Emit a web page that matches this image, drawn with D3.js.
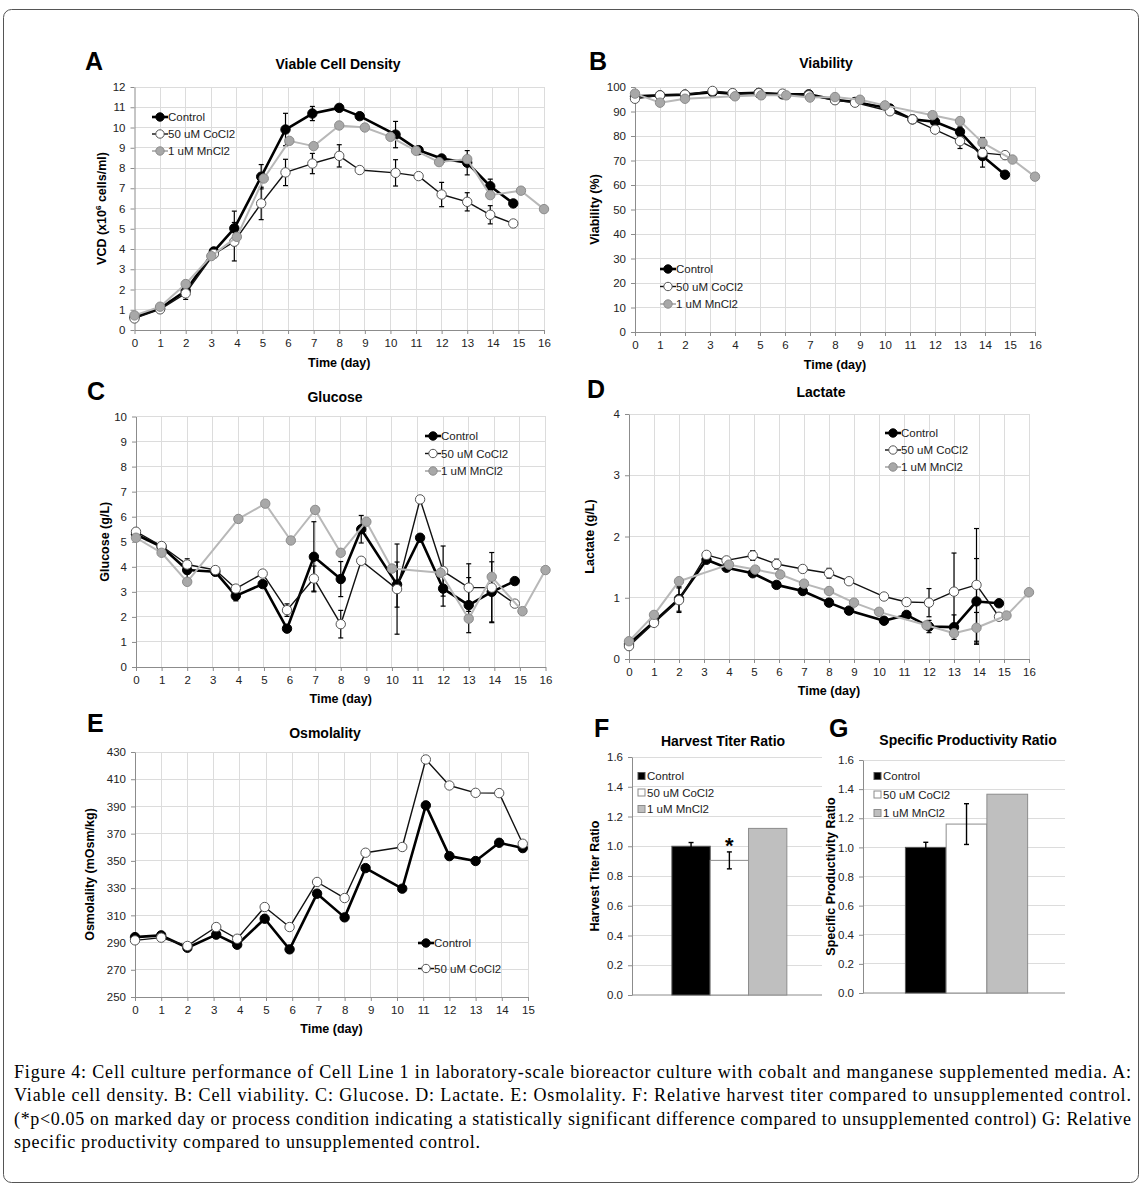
<!DOCTYPE html>
<html>
<head>
<meta charset="utf-8">
<script src="https://cdn.jsdelivr.net/npm/d3@7"></script>
<style>
  body { margin: 0; background: #fff; }
  svg text { font-family: "Liberation Sans", Arial, sans-serif; }
</style>
</head>
<body>
<svg id="fig" width="1144" height="1187"></svg>
<script>
// sampling days (control / CoCl2 and MnCl2 were sampled on slightly shifted days)
var days = [0, 1, 2, 3.1, 3.9, 4.95, 5.9, 6.95, 8, 8.8, 10.2, 11.1, 12, 13, 13.9, 14.8];
var daysMn = [0, 1, 2, 3, 4, 5.05, 6.05, 7, 8, 9, 10, 11, 11.9, 13, 13.9, 15.1, 16];
var seriesNames = ['Control', '50 uM CoCl2', '1 uM MnCl2'];

// A: viable cell density (x10^6 cells/ml)
var vcdControl = [0.63, 1.07, 1.94, 3.88, 5.02, 7.57, 9.9, 10.69, 10.97, 10.56, 9.65, 8.88, 8.47, 8.26, 7.1, 6.25];
var vcdControlErr = [0, 0, 0, 0, 0.85, 0.6, 0.8, 0.35, 0, 0, 0.65, 0, 0, 0.6, 0.35, 0];
var vcdCoCl2 = [0.57, 1.02, 1.81, 3.75, 4.36, 6.25, 7.78, 8.22, 8.6, 7.9, 7.76, 7.6, 6.69, 6.33, 5.69, 5.26];
var vcdCoCl2Err = [0, 0, 0.3, 0, 0.95, 0.8, 0.65, 0.5, 0.55, 0, 0.65, 0, 0.6, 0.45, 0.45, 0];
var vcdMnCl2 = [0.72, 1.15, 2.27, 3.65, 4.6, 7.48, 9.34, 9.08, 10.1, 10.0, 9.54, 8.85, 8.29, 8.44, 6.66, 6.88, 5.97];

// B: viability (%)
var viaControl = [96.2, 96.6, 96.9, 97.9, 97.3, 97.6, 97.0, 97.0, 94.8, 93.9, 91.2, 86.8, 85.8, 81.7, 71.8, 64.2];
var viaControlErr = [0, 0, 0, 0, 0, 0, 0, 0, 0, 0, 0, 0, 1.5, 2, 4.5, 0];
var viaCoCl2 = [95.2, 96.6, 96.9, 98.4, 97.5, 97.5, 97.3, 96.6, 94.6, 93.6, 90.1, 86.8, 82.6, 77.9, 73.1, 72.2];
var viaCoCl2Err = [0, 0, 0, 0, 0, 0, 0, 0, 0, 0, 0, 0, 0, 3, 2, 0];
var viaMnCl2 = [97.3, 93.6, 95.2, null, 96.2, 96.6, 96.6, 95.7, 95.9, 94.8, 92.5, null, 88.5, 86.1, 77.3, 70.4, 63.4];
var viaMnCl2Err = [0, 0, 0, 0, 0, 0, 0, 0, 0, 0, 0, 0, 0, 0, 2, 0, 0];

// C: glucose (g/L)
var gluControl = [5.29, 4.8, 3.87, 3.8, 2.84, 3.31, 1.53, 4.4, 3.51, 5.5, 3.29, 5.16, 3.13, 2.47, 3.0, 3.43];
var gluControlErr = [0, 0, 0.45, 0, 0.2, 0, 0, 1.4, 0.7, 0.55, 0.9, 0, 0.7, 1.1, 1.2, 0];
var gluCoCl2 = [5.4, 4.83, 4.09, 3.87, 3.13, 3.73, 2.27, 3.53, 1.71, 4.24, 3.11, 6.69, 3.83, 3.17, 3.17, 2.53];
var gluCoCl2Err = [0, 0, 0, 0, 0, 0, 0.25, 0.5, 0.55, 0, 1.8, 0, 1.0, 0.95, 1.4, 0];
var gluMnCl2 = [5.16, 4.56, 3.4, null, 5.91, 6.52, 5.05, 6.27, 4.56, 5.8, 3.93, null, 3.76, 1.93, 3.6, 2.23, 3.87];

// D: lactate (g/L)
var lacControl = [0.245, 0.61, 0.98, 1.62, 1.49, 1.40, 1.21, 1.11, 0.92, 0.79, 0.625, 0.72, 0.53, 0.52, 0.94, 0.91];
var lacControlErr = [0, 0, 0.2, 0, 0, 0, 0, 0, 0, 0, 0.05, 0, 0.1, 0.2, 0.7, 0];
var lacCoCl2 = [0.21, 0.59, 0.96, 1.70, 1.61, 1.69, 1.55, 1.47, 1.40, 1.27, 1.02, 0.93, 0.92, 1.10, 1.21, 0.69];
var lacCoCl2Err = [0, 0, 0.2, 0, 0, 0.08, 0.08, 0, 0.08, 0, 0, 0, 0.23, 0.63, 0.92, 0];
var lacMnCl2 = [0.29, 0.72, 1.27, null, 1.54, 1.46, 1.38, 1.23, 1.11, 0.92, 0.77, null, 0.55, 0.42, 0.51, 0.71, 1.09];
var lacMnCl2Err = [0, 0, 0, 0, 0, 0, 0, 0, 0, 0, 0, 0, 0, 0, 0.25, 0, 0];

// E: osmolality (mOsm/kg)
var osmControl = [294, 295.3, 286.2, 295.8, 288.4, 307.5, 285, 325.9, 308.5, 344.7, 329.6, 390.8, 353.5, 349.9, 363.3, 359.4];
var osmCoCl2 = [291.6, 293.6, 287.5, 301.4, 292.8, 316.1, 301.4, 334.5, 322.7, 356, 360.2, 424.5, 405.4, 400, 399.8, 362.6];

// F / G: ratios to control
var titerRatio = [1.0, 0.905, 1.12];
var titerErr = [0.025, 0.057, 0];
var qpRatio = [1.0, 1.16, 1.365];
var qpErr = [0.035, 0.14, 0];
var ratioTicks = [0, 0.2, 0.4, 0.6, 0.8, 1.0, 1.2, 1.4, 1.6];

var captionLines = [
  'Cell culture performance of Cell Line 1 in laboratory-scale bioreactor culture with cobalt and manganese supplemented media. A:',
  'Viable cell density. B: Cell viability. C: Glucose. D: Lactate. E: Osmolality. F: Relative harvest titer compared to unsupplemented control.',
  '(*p<0.05 on marked day or process condition indicating a statistically significant difference compared to unsupplemented control) G: Relative',
  'specific productivity compared to unsupplemented control.'
];

var svg = d3.select('#fig');
var gridColor = '#dcdcdc', axisColor = '#8c8c8c';
var seriesStyle = [
  {line: '#000', width: 2.6, fill: '#000', stroke: '#000'},
  {line: '#111', width: 1.4, fill: '#fff', stroke: '#555'},
  {line: '#b8b8b8', width: 2, fill: '#a8a8a8', stroke: '#8c8c8c'}
];
var barStyle = [
  {fill: '#000', stroke: '#555'},
  {fill: '#fff', stroke: '#8c8c8c'},
  {fill: '#bfbfbf', stroke: '#8c8c8c'}
];

function styleAxis(a) {
  a.select('.domain').attr('stroke', axisColor);
  a.selectAll('.tick line').attr('stroke', axisColor);
  a.selectAll('.tick text').attr('font-size', 11.5).attr('fill', '#222');
}

function panelText(p) {
  svg.append('text').attr('x', p.letterX).attr('y', p.letterY)
    .attr('font-size', 25).attr('font-weight', 'bold').text(p.letter);
  svg.append('text').attr('x', p.titleX).attr('y', p.titleY).attr('text-anchor', 'middle')
    .attr('font-size', 14).attr('font-weight', 'bold').text(p.title);
  var yl = svg.append('text')
    .attr('transform', 'translate(' + p.yLabelX + ',' + (p.top + p.bottom) / 2 + ') rotate(-90)')
    .attr('text-anchor', 'middle').attr('font-size', 12.5).attr('font-weight', 'bold');
  if (p.yLabelSup) {
    yl.append('tspan').text(p.yLabel[0]);
    yl.append('tspan').attr('font-size', 8).attr('dy', -5).text(p.yLabelSup);
    yl.append('tspan').attr('dy', 5).text(p.yLabel[1]);
  } else {
    yl.text(p.yLabel);
  }
  if (p.xLabelY) {
    svg.append('text').attr('x', (p.left + p.right) / 2).attr('y', p.xLabelY).attr('text-anchor', 'middle')
      .attr('font-size', 12.5).attr('font-weight', 'bold').text('Time (day)');
  }
}

function linePanel(p) {
  var g = svg.append('g');
  var x = d3.scaleLinear().domain([0, p.xMax]).range([p.left, p.right]);
  var y = d3.scaleLinear().domain([p.yMin, p.yMax]).range([p.bottom, p.top]);
  var xTicks = d3.range(0, p.xMax + 1);
  var yTicks = d3.range(p.yMin, p.yMax + p.yStep / 2, p.yStep);

  g.append('g').selectAll('line').data(xTicks.slice(1)).enter().append('line')
    .attr('x1', x).attr('x2', x).attr('y1', p.top).attr('y2', p.bottom)
    .attr('stroke', gridColor).attr('shape-rendering', 'crispEdges');
  g.append('g').selectAll('line').data(yTicks.slice(1)).enter().append('line')
    .attr('x1', p.left).attr('x2', p.right).attr('y1', y).attr('y2', y)
    .attr('stroke', gridColor).attr('shape-rendering', 'crispEdges');

  var xa = g.append('g').attr('transform', 'translate(0,' + p.bottom + ')')
    .call(d3.axisBottom(x).tickValues(xTicks).tickSize(4).tickSizeOuter(0).tickPadding(5));
  var ya = g.append('g').attr('transform', 'translate(' + p.left + ',0)')
    .call(d3.axisLeft(y).tickValues(yTicks).tickSize(4).tickSizeOuter(0).tickPadding(5).tickFormat(d3.format('d')));
  styleAxis(xa);
  styleAxis(ya);

  var line = d3.line().x(function(d) { return x(d.x); }).y(function(d) { return y(d.y); });

  p.series.forEach(function(s) {
    var st = seriesStyle[s.style];
    var pts = s.days.map(function(d, j) {
      return {x: d, y: s.values[j], e: s.errs ? s.errs[j] : 0};
    }).filter(function(d) { return d.y !== null; });

    var eb = g.append('g').attr('stroke', '#000').attr('stroke-width', 1.2);
    pts.filter(function(d) { return d.e > 0; }).forEach(function(d) {
      var cx = x(d.x);
      eb.append('line').attr('x1', cx).attr('x2', cx).attr('y1', y(d.y - d.e)).attr('y2', y(d.y + d.e));
      eb.append('line').attr('x1', cx - 2.5).attr('x2', cx + 2.5).attr('y1', y(d.y - d.e)).attr('y2', y(d.y - d.e));
      eb.append('line').attr('x1', cx - 2.5).attr('x2', cx + 2.5).attr('y1', y(d.y + d.e)).attr('y2', y(d.y + d.e));
    });

    g.append('path').datum(pts).attr('d', line).attr('fill', 'none')
      .attr('stroke', st.line).attr('stroke-width', st.width).attr('stroke-linejoin', 'round');
    g.append('g').selectAll('circle').data(pts).enter().append('circle')
      .attr('cx', function(d) { return x(d.x); }).attr('cy', function(d) { return y(d.y); })
      .attr('r', 4.7).attr('fill', st.fill).attr('stroke', st.stroke).attr('stroke-width', 1);
  });

  // legend
  var lg = g.append('g');
  p.series.forEach(function(s, i) {
    var st = seriesStyle[s.style], ly = p.legY + i * p.legDy;
    lg.append('line').attr('x1', p.legX).attr('x2', p.legX + 16).attr('y1', ly).attr('y2', ly)
      .attr('stroke', st.line).attr('stroke-width', st.width);
    lg.append('circle').attr('cx', p.legX + 8).attr('cy', ly).attr('r', 4.2)
      .attr('fill', st.fill).attr('stroke', st.stroke);
    lg.append('text').attr('x', p.legX + 16).attr('y', ly + 4).attr('font-size', 11.5)
      .attr('fill', '#222').text(seriesNames[s.style]);
  });

  panelText(p);
}

function barPanel(p) {
  var g = svg.append('g');
  var w = p.right - p.left;
  var x = d3.scaleBand().domain(seriesNames).range([p.left + w * 0.21, p.left + w * 0.815]).padding(0);
  var y = d3.scaleLinear().domain([0, 1.6]).range([p.bottom, p.top]);

  g.append('g').selectAll('line').data(ratioTicks.slice(1)).enter().append('line')
    .attr('x1', p.left).attr('x2', p.right).attr('y1', y).attr('y2', y)
    .attr('stroke', gridColor).attr('shape-rendering', 'crispEdges');

  var ya = g.append('g').attr('transform', 'translate(' + p.left + ',0)')
    .call(d3.axisLeft(y).tickValues(ratioTicks).tickSize(4).tickSizeOuter(0).tickPadding(5).tickFormat(d3.format('.1f')));
  styleAxis(ya);
  g.append('line').attr('x1', p.left).attr('x2', p.right).attr('y1', p.bottom).attr('y2', p.bottom)
    .attr('stroke', axisColor);

  g.append('g').selectAll('rect').data(p.values).enter().append('rect')
    .attr('x', function(d, i) { return x(seriesNames[i]); })
    .attr('y', function(d) { return y(d); })
    .attr('width', x.bandwidth())
    .attr('height', function(d) { return p.bottom - y(d); })
    .attr('fill', function(d, i) { return barStyle[i].fill; })
    .attr('stroke', function(d, i) { return barStyle[i].stroke; });

  var eb = g.append('g').attr('stroke', '#000').attr('stroke-width', 1.4);
  p.values.forEach(function(v, i) {
    var e = p.errs[i];
    if (!e) return;
    var cx = x(seriesNames[i]) + x.bandwidth() / 2;
    eb.append('line').attr('x1', cx).attr('x2', cx).attr('y1', y(v - e)).attr('y2', y(v + e));
    eb.append('line').attr('x1', cx - 2.5).attr('x2', cx + 2.5).attr('y1', y(v - e)).attr('y2', y(v - e));
    eb.append('line').attr('x1', cx - 2.5).attr('x2', cx + 2.5).attr('y1', y(v + e)).attr('y2', y(v + e));
  });

  if (p.star !== undefined) {
    var si = p.star;
    g.append('text').attr('x', x(seriesNames[si]) + x.bandwidth() / 2)
      .attr('y', y(p.values[si] + p.errs[si]) + 1).attr('text-anchor', 'middle')
      .attr('font-size', 22).attr('font-weight', 'bold').text('*');
  }

  var lg = g.append('g');
  seriesNames.forEach(function(n, i) {
    var ly = p.legY + i * p.legDy;
    lg.append('rect').attr('x', p.legX).attr('y', ly - 3.5).attr('width', 7).attr('height', 7)
      .attr('fill', barStyle[i].fill).attr('stroke', barStyle[i].stroke);
    lg.append('text').attr('x', p.legX + 9).attr('y', ly + 4).attr('font-size', 11.5)
      .attr('fill', '#222').text(n);
  });

  panelText(p);
}

// frame
svg.append('rect').attr('x', 3.5).attr('y', 9.5).attr('width', 1135).attr('height', 1173)
  .attr('rx', 8).attr('fill', 'none').attr('stroke', '#555');

linePanel({
  letter: 'A', letterX: 85, letterY: 70, title: 'Viable Cell Density', titleX: 338, titleY: 69,
  left: 134.5, right: 544, top: 87, bottom: 330, xMax: 16, yMin: 0, yMax: 12, yStep: 1,
  yLabel: ['VCD (x10', ' cells/ml)'], yLabelSup: '6', yLabelX: 106, xLabelY: 367,
  legX: 152, legY: 117, legDy: 17,
  series: [
    {style: 0, days: days, values: vcdControl, errs: vcdControlErr},
    {style: 1, days: days, values: vcdCoCl2, errs: vcdCoCl2Err},
    {style: 2, days: daysMn, values: vcdMnCl2}
  ]
});

linePanel({
  letter: 'B', letterX: 589, letterY: 70, title: 'Viability', titleX: 826, titleY: 68,
  left: 635, right: 1035, top: 87, bottom: 332, xMax: 16, yMin: 0, yMax: 100, yStep: 10,
  yLabel: 'Viability (%)', yLabelX: 599, xLabelY: 369,
  legX: 660, legY: 269, legDy: 17.5,
  series: [
    {style: 0, days: days, values: viaControl, errs: viaControlErr},
    {style: 1, days: days, values: viaCoCl2, errs: viaCoCl2Err},
    {style: 2, days: daysMn, values: viaMnCl2, errs: viaMnCl2Err}
  ]
});

linePanel({
  letter: 'C', letterX: 87, letterY: 400, title: 'Glucose', titleX: 335, titleY: 402,
  left: 136, right: 545.5, top: 416.5, bottom: 667, xMax: 16, yMin: 0, yMax: 10, yStep: 1,
  yLabel: 'Glucose (g/L)', yLabelX: 109, xLabelY: 703,
  legX: 425, legY: 436, legDy: 17.5,
  series: [
    {style: 0, days: days, values: gluControl, errs: gluControlErr},
    {style: 1, days: days, values: gluCoCl2, errs: gluCoCl2Err},
    {style: 2, days: daysMn, values: gluMnCl2}
  ]
});

linePanel({
  letter: 'D', letterX: 587, letterY: 398, title: 'Lactate', titleX: 821, titleY: 397,
  left: 629, right: 1029, top: 414, bottom: 659, xMax: 16, yMin: 0, yMax: 4, yStep: 1,
  yLabel: 'Lactate (g/L)', yLabelX: 594, xLabelY: 695,
  legX: 885, legY: 433, legDy: 17,
  series: [
    {style: 0, days: days, values: lacControl, errs: lacControlErr},
    {style: 1, days: days, values: lacCoCl2, errs: lacCoCl2Err},
    {style: 2, days: daysMn, values: lacMnCl2, errs: lacMnCl2Err}
  ]
});

linePanel({
  letter: 'E', letterX: 87, letterY: 732, title: 'Osmolality', titleX: 325, titleY: 738,
  left: 135, right: 528, top: 752, bottom: 997, xMax: 15, yMin: 250, yMax: 430, yStep: 20,
  yLabel: 'Osmolality (mOsm/kg)', yLabelX: 94, xLabelY: 1033,
  legX: 418, legY: 943, legDy: 25.5,
  series: [
    {style: 0, days: days, values: osmControl},
    {style: 1, days: days, values: osmCoCl2}
  ]
});

barPanel({
  letter: 'F', letterX: 594, letterY: 737, title: 'Harvest Titer Ratio', titleX: 723, titleY: 746,
  left: 632, right: 822, top: 757, bottom: 995,
  yLabel: 'Harvest Titer Ratio', yLabelX: 599,
  values: titerRatio, errs: titerErr, star: 1,
  legX: 638, legY: 776, legDy: 16.5
});

barPanel({
  letter: 'G', letterX: 829, letterY: 737, title: 'Specific Productivity Ratio', titleX: 968, titleY: 745,
  left: 863, right: 1065, top: 760, bottom: 993,
  yLabel: 'Specific Productivity Ratio', yLabelX: 835,
  values: qpRatio, errs: qpErr,
  legX: 874, legY: 776, legDy: 18.5
});

// caption
var cap = svg.append('g').attr('font-size', 18);
captionLines.forEach(function(t, i) {
  var tx = cap.append('text').attr('x', 14).attr('y', 1078 + i * 23.3)
    .attr('textLength', i < 3 ? 1117 : 466).attr('lengthAdjust', 'spacing')
    .style('font-family', '"Liberation Serif", "Times New Roman", serif');
  if (i === 0) {
    tx.append('tspan').text('Figure 4: ');
  }
  tx.append('tspan').text(t);
});
</script>
</body>
</html>
